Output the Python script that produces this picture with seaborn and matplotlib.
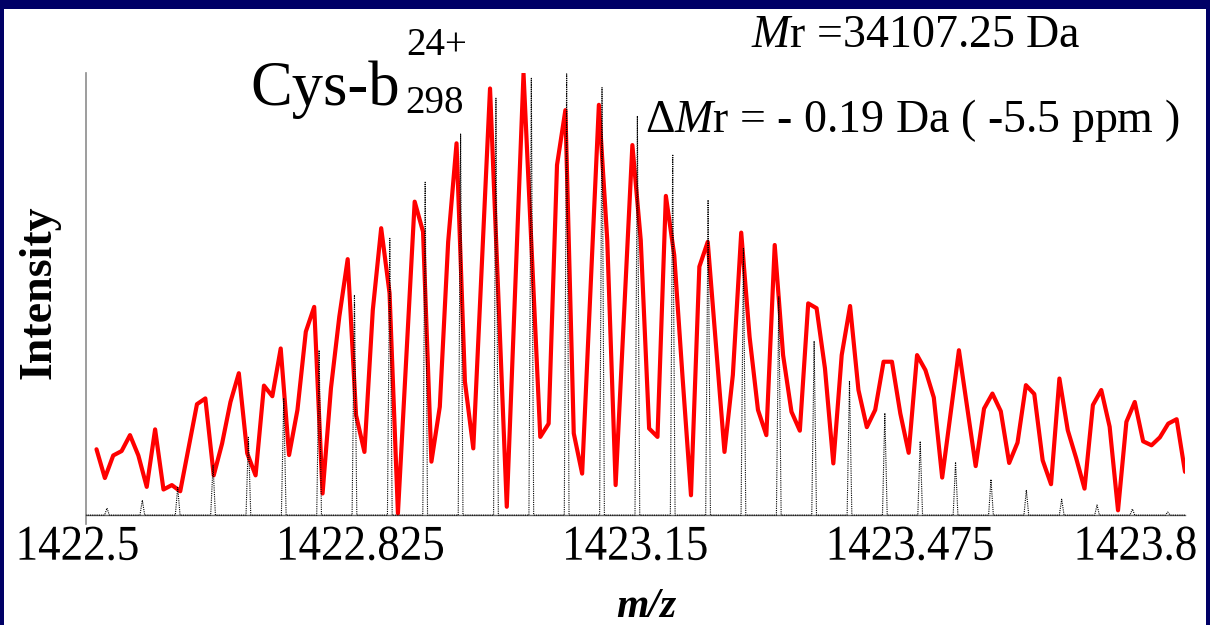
import numpy as np
import pandas as pd
import matplotlib
matplotlib.use("Agg")
import matplotlib.pyplot as plt
import seaborn as sns
from matplotlib.patches import Rectangle
from matplotlib.patheffects import AbstractPathEffect
from matplotlib.transforms import Affine2D

# ---------------- data ----------------
# experimental spectrum: evenly sampled m/z grid
obs_mz_start = 1422.513
obs_mz_stop = 1423.800
obs_intensity = [
    14.9, 8.4, 13.5, 14.5, 18.1, 13.5, 6.4, 19.4, 5.8, 6.8,
    5.4, 15.3, 25.1, 26.4, 9.0, 16.2, 25.6, 32.1, 14.0, 9.0,
    29.3, 26.9, 37.7, 13.6, 23.8, 41.5, 47.1, 4.9, 28.7, 44.9,
    57.9, 22.6, 14.3, 46.4, 64.9, 50.2, 0.4, 35.7, 70.9, 64.1,
    12.1, 24.5, 61.8, 84.1, 30.2, 15.1, 55.9, 96.5, 49.3, 1.9,
    50.9, 99.9, 58.8, 17.7, 20.7, 79.2, 91.6, 18.5, 9.4, 51.1,
    92.8, 62.2, 6.8, 45.2, 83.7, 62.2, 19.6, 17.7, 72.2, 58.8,
    31.0, 4.5, 56.2, 61.8, 38.1, 14.3, 31.7, 63.9, 40.3, 23.8,
    18.1, 61.1, 36.2, 23.4, 19.1, 47.9, 46.8, 33.2, 11.7, 36.2,
    47.3, 28.3, 19.9, 23.8, 34.7, 34.7, 23.0, 14.1, 36.2, 32.8,
    26.6, 8.5, 22.9, 37.3, 24.2, 11.1, 24.1, 27.5, 23.5, 11.8,
    16.4, 29.4, 27.4, 12.4, 7.0, 30.9, 19.2, 12.9, 6.0, 24.9,
    28.3, 20.0, 1.1, 21.1, 25.6, 16.7, 15.8, 17.6, 20.7, 21.7,
    9.8,
]

# theoretical isotope distribution (24+)
theo_mz = [
    1422.5254, 1422.5672, 1422.6090, 1422.6508, 1422.6926, 1422.7344,
    1422.7762, 1422.8180, 1422.8598, 1422.9016, 1422.9435, 1422.9853,
    1423.0271, 1423.0689, 1423.1107, 1423.1525, 1423.1943, 1423.2361,
    1423.2779, 1423.3197, 1423.3615, 1423.4033, 1423.4451, 1423.4869,
    1423.5287, 1423.5706, 1423.6124, 1423.6542, 1423.6960, 1423.7378,
    1423.7796,
]
theo_intensity = [
    1.6, 3.4, 6.3, 11.3, 17.6, 26.5, 37.3, 49.8, 62.6, 75.3, 86.2,
    94.3, 98.8, 99.8, 96.7, 90.3, 81.6, 71.3, 60.3, 49.4, 39.4, 30.4,
    23.1, 16.7, 12.0, 8.1, 5.7, 3.6, 2.3, 1.4, 0.7,
]

tick_values = [1422.5, 1422.825, 1423.15, 1423.475, 1423.8]
tick_labels = ["1422.5", "1422.825", "1423.15", "1423.475", "1423.8"]

x_min, x_max = 1422.5, 1423.8

# ---------------- helpers ----------------
class Condense(AbstractPathEffect):
    """Slightly condense (and optionally nudge) the glyphs of a text.
    The text itself stays a normal Text artist."""
    def __init__(self, sx, dx=0.0):
        super().__init__()
        self._sx = sx
        self._dx = dx

    def draw_path(self, renderer, gc, tpath, affine, rgbFace=None):
        v = tpath.vertices
        cx = (min(0.0, v[:, 0].min()) + v[:, 0].max()) / 2 if len(v) else 0.0
        t = (Affine2D().translate(-cx, 0).scale(self._sx, 1.0).translate(cx, 0)
             + affine + Affine2D().translate(self._dx, 0))
        renderer.draw_path(gc, tpath, t, rgbFace)


# ---------------- figure ----------------
sns.set_style("white")
plt.rcParams["font.family"] = ["Liberation Serif", "DejaVu Serif"]
plt.rcParams["text.color"] = "black"
plt.rcParams["xtick.color"] = "black"
plt.rcParams["mathtext.fontset"] = "custom"
plt.rcParams["mathtext.rm"] = "Liberation Serif"
plt.rcParams["mathtext.it"] = "Liberation Serif:italic"

W, H = 1210, 625
fig = plt.figure(figsize=(W / 100, H / 100), dpi=100)
fig.patch.set_facecolor("#000066")
fig.add_artist(Rectangle((4 / W, 0), (W - 8) / W, (H - 9) / H,
                         transform=fig.transFigure, facecolor="white",
                         edgecolor="none", zorder=-10))

ax = fig.add_axes([85.5 / W, 1 - 524 / H, (1185 - 85.5) / W, (524 - 73) / H])
ax.set_facecolor("none")

obs_df = pd.DataFrame({
    "mz": np.linspace(obs_mz_start, obs_mz_stop, len(obs_intensity)),
    "intensity": obs_intensity,
})

# stick-like theoretical profile built from the peak table
half_w = 0.0028
prof_x, prof_y = [x_min], [0.0]
for m, h in zip(theo_mz, theo_intensity):
    prof_x += [m - half_w, m, m + half_w]
    prof_y += [0.0, h, 0.0]
prof_x.append(x_max)
prof_y.append(0.0)
theo_df = pd.DataFrame({"mz": prof_x, "intensity": prof_y})

sns.lineplot(data=obs_df, x="mz", y="intensity", ax=ax, color="#ff0000",
             linewidth=3.0, estimator=None, sort=False, zorder=3)
sns.lineplot(data=theo_df, x="mz", y="intensity", ax=ax, color="black",
             linewidth=0.8, linestyle=(0, (1, 1)), estimator=None,
             sort=False, zorder=4)

ax.set_xlim(x_min, x_max)
ax.set_ylim(-2.0, 100)
ax.set_xlabel("")
ax.set_ylabel("")

# spines first (set_position resets the tick objects)
for s in ["top", "right"]:
    ax.spines[s].set_visible(False)
ax.spines["bottom"].set_position(("data", 0))
ax.spines["bottom"].set_color("#666666")
ax.spines["bottom"].set_linewidth(1.0)
ax.spines["left"].set_color("#8c8c8c")
ax.spines["left"].set_linewidth(1.2)

ax.set_yticks([])
ax.set_xticks(tick_values, labels=tick_labels)
ax.tick_params(axis="x", direction="out", length=6, width=1.0,
               color="#555555", pad=0.5, labelsize=36, labelcolor="black")
labels = ax.get_xticklabels()
aligns = ["center", "center", "center", "center", "right"]
nudges = [-8, 0, 0, 0, 19]
for lab, ha, dx in zip(labels, aligns, nudges):
    lab.set_fontsize(36)
    lab.set_horizontalalignment(ha)
    lab.set_path_effects([Condense(0.9, dx)])


def fx(px):
    return px / W


def fy(py):
    return 1 - py / H


# axis titles
fig.text(fx(40), fy(292), "Intensity", rotation=90, fontsize=33,
         fontweight="bold", ha="center", va="center", color="black")
fig.text(fx(646), fy(617), "m/z", fontsize=30, fontweight="bold",
         fontstyle="italic", ha="center", va="baseline", color="black")

# ion annotation
fig.text(fx(250), fy(105), "Cys-b", fontsize=45, ha="left", va="baseline",
         color="black")
fig.text(fx(405), fy(113), "298", fontsize=28, ha="left", va="baseline",
         color="black")
fig.text(fx(406), fy(55), "24+", fontsize=28, ha="left", va="baseline",
         color="black")

# mass annotations
fig.text(fx(751), fy(47), r"$\mathit{M}$r =34107.25 Da", fontsize=33,
         ha="left", va="baseline", color="black")
fig.text(fx(645), fy(132), "\u0394" + r"$\mathit{M}$r = - 0.19 Da ( -5.5 ppm )",
         fontsize=33, ha="left", va="baseline", color="black")

fig.savefig("out.png", dpi=100, facecolor=fig.get_facecolor())
